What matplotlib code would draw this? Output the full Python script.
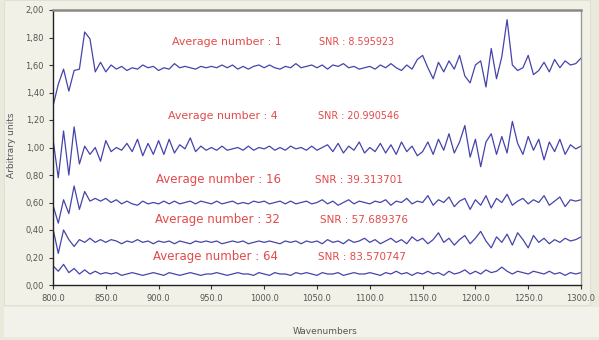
import numpy as np
import matplotlib
matplotlib.use("Agg")
import matplotlib.pyplot as plt
from matplotlib.patches import Rectangle

# wavenumber grid (5 cm-1 steps)
wavenumbers = np.arange(800, 1301, 5)

# spectra, one per averaging number
avg_1 = [
    1.30, 1.46, 1.57, 1.41, 1.56, 1.57, 1.84, 1.79, 1.55, 1.62,
    1.55, 1.60, 1.57, 1.59, 1.56, 1.58, 1.57, 1.60, 1.58, 1.59,
    1.56, 1.58, 1.57, 1.61, 1.58, 1.59, 1.58, 1.57, 1.59, 1.58,
    1.59, 1.58, 1.60, 1.58, 1.60, 1.57, 1.59, 1.57, 1.59, 1.60,
    1.58, 1.60, 1.58, 1.57, 1.59, 1.58, 1.61, 1.58, 1.59, 1.60,
    1.58, 1.60, 1.57, 1.60, 1.59, 1.61, 1.58, 1.59, 1.57, 1.58,
    1.59, 1.57, 1.60, 1.58, 1.61, 1.58, 1.56, 1.60, 1.57, 1.64,
    1.67, 1.58, 1.50, 1.62, 1.55, 1.63, 1.57, 1.67, 1.52, 1.47,
    1.60, 1.63, 1.44, 1.72, 1.50, 1.66, 1.93, 1.60, 1.56, 1.58,
    1.67, 1.53, 1.56, 1.62, 1.55, 1.64, 1.58, 1.63, 1.60, 1.61,
    1.65,
]
avg_4 = [
    1.06, 0.78, 1.12, 0.80, 1.15, 0.88, 1.01, 0.95, 1.00, 0.90,
    1.05, 0.97, 1.00, 0.98, 1.03, 0.97, 1.06, 0.94, 1.03, 0.95,
    1.05, 0.95, 1.06, 0.96, 1.02, 0.99, 1.07, 0.97, 1.01, 0.98,
    1.00, 0.98, 1.01, 0.98, 0.99, 1.00, 0.98, 1.01, 0.98, 1.00,
    0.99, 1.01, 0.98, 1.00, 0.98, 1.01, 0.99, 1.00, 0.98, 1.01,
    0.98, 1.00, 1.02, 0.97, 1.03, 0.96, 1.01, 0.98, 1.04, 0.96,
    1.00, 0.97, 1.03, 0.96, 1.02, 0.95, 1.04, 0.97, 1.01, 0.94,
    0.97, 1.04, 0.95, 1.06, 0.98, 1.10, 0.96, 1.04, 1.16, 0.93,
    1.06, 0.86, 1.04, 1.10, 0.95, 1.08, 0.96, 1.19, 1.03, 0.95,
    1.08, 0.98, 1.06, 0.91, 1.04, 0.97, 1.06, 0.95, 1.02, 0.99,
    1.01,
]
avg_16 = [
    0.58, 0.45, 0.62, 0.52, 0.72, 0.55, 0.68, 0.61, 0.63, 0.61,
    0.63, 0.60, 0.62, 0.59, 0.61, 0.59, 0.58, 0.61, 0.59, 0.60,
    0.59, 0.61, 0.59, 0.61, 0.59, 0.60, 0.61, 0.59, 0.61, 0.60,
    0.59, 0.61, 0.59, 0.60, 0.61, 0.59, 0.60, 0.59, 0.61, 0.60,
    0.61, 0.59, 0.60, 0.61, 0.59, 0.61, 0.59, 0.60, 0.61, 0.59,
    0.60, 0.62, 0.59, 0.61, 0.58, 0.60, 0.62, 0.59, 0.61, 0.60,
    0.59, 0.61, 0.60, 0.62, 0.58, 0.61, 0.60, 0.63, 0.59, 0.61,
    0.60, 0.65, 0.58, 0.62, 0.60, 0.64, 0.57, 0.61, 0.63, 0.55,
    0.62, 0.58, 0.65, 0.56, 0.63, 0.60, 0.66, 0.58, 0.61, 0.63,
    0.59, 0.62, 0.60, 0.65, 0.58, 0.61, 0.64, 0.57, 0.62, 0.61,
    0.62,
]
avg_32 = [
    0.41, 0.23, 0.40, 0.33, 0.28, 0.33, 0.31, 0.34, 0.31, 0.33,
    0.31, 0.33, 0.32, 0.30, 0.32, 0.31, 0.33, 0.31, 0.32, 0.30,
    0.32, 0.31, 0.32, 0.30, 0.32, 0.31, 0.30, 0.32, 0.31, 0.32,
    0.31, 0.32, 0.30, 0.31, 0.32, 0.31, 0.32, 0.30, 0.31, 0.32,
    0.31, 0.32, 0.31, 0.30, 0.32, 0.31, 0.32, 0.30, 0.32, 0.31,
    0.32, 0.30, 0.33, 0.31, 0.32, 0.30, 0.33, 0.31, 0.32, 0.34,
    0.31, 0.33, 0.30, 0.32, 0.34, 0.31, 0.33, 0.30, 0.35, 0.32,
    0.34, 0.30, 0.33, 0.38, 0.31, 0.34, 0.29, 0.33, 0.36, 0.30,
    0.34, 0.39, 0.32, 0.27, 0.35, 0.31, 0.37, 0.29, 0.38, 0.33,
    0.27, 0.36, 0.31, 0.34, 0.30, 0.33, 0.31, 0.34, 0.32, 0.33,
    0.35,
]
avg_64 = [
    0.14, 0.10, 0.15, 0.09, 0.12, 0.08, 0.11, 0.08, 0.10, 0.08,
    0.09, 0.08, 0.09, 0.07, 0.08, 0.09, 0.08, 0.07, 0.08, 0.09,
    0.08, 0.07, 0.09, 0.08, 0.07, 0.08, 0.09, 0.08, 0.07, 0.08,
    0.08, 0.09, 0.08, 0.07, 0.08, 0.09, 0.08, 0.08, 0.07, 0.09,
    0.08, 0.07, 0.09, 0.08, 0.08, 0.07, 0.09, 0.08, 0.09, 0.08,
    0.07, 0.09, 0.08, 0.08, 0.09, 0.07, 0.08, 0.09, 0.08, 0.08,
    0.09, 0.08, 0.07, 0.09, 0.08, 0.10, 0.08, 0.09, 0.07, 0.09,
    0.08, 0.10, 0.08, 0.09, 0.07, 0.10, 0.08, 0.09, 0.11, 0.08,
    0.10, 0.08, 0.11, 0.09, 0.10, 0.13, 0.10, 0.08, 0.10, 0.09,
    0.08, 0.10, 0.09, 0.08, 0.10, 0.08, 0.09, 0.07, 0.09, 0.08,
    0.09,
]
spectra = [avg_1, avg_4, avg_16, avg_32, avg_64]

avg_labels = ["Average number : 1", "Average number : 4", "Average number : 16",
              "Average number : 32", "Average number : 64"]
snr_labels = ["SNR : 8.595923", "SNR : 20.990546", "SNR : 39.313701",
              "SNR : 57.689376", "SNR : 83.570747"]

x_ticks = [800, 850, 900, 950, 1000, 1050, 1100, 1150, 1200, 1250, 1300]
x_tick_labels = ["800.0", "850.0", "900.0", "950.0", "1000.0", "1050.0",
                 "1100.0", "1150.0", "1200.0", "1250.0", "1300.0"]
y_ticks = [0.0, 0.2, 0.4, 0.6, 0.8, 1.0, 1.2, 1.4, 1.6, 1.8, 2.0]
y_tick_labels = ["0,00", "0,20", "0,40", "0,60", "0,80", "1,00",
                 "1,20", "1,40", "1,60", "1,80", "2,00"]

# text placement (data coords) and size for each annotation row
label_pos = [(913, 1.77, 1052), (909, 1.23, 1051), (898, 0.765, 1048),
             (897, 0.475, 1053), (895, 0.205, 1051)]
label_size = [7.9, 7.9, 8.5, 8.5, 8.5]

W, H = 599, 340
fig = plt.figure(figsize=(W / 100, H / 100), dpi=100, facecolor="#ebe9dc")

# light panels behind the chart (windows style frame)
fig.patches.append(Rectangle((4 / W, 1 - 305 / H), 586 / W, 305 / H, transform=fig.transFigure,
                             facecolor="#f2f1e8", edgecolor="#e2e0d2", lw=0.8, zorder=-10))
fig.patches.append(Rectangle((4 / W, 1 - 337 / H), 595 / W, 30 / H, transform=fig.transFigure,
                             facecolor="#f3f2ea", edgecolor="none", zorder=-10))

ax = fig.add_axes([53 / W, 1 - 285 / H, 528 / W, 275 / H])
ax.set_zorder(2)
ax.set_facecolor("white")

for y in spectra:
    ax.plot(wavenumbers, y, color="#4444ac", lw=0.9)

red = "#e34a4a"
for i in range(len(spectra)):
    xa, ya, xs = label_pos[i]
    ax.text(xa, ya, avg_labels[i], color=red, fontsize=label_size[i], va="center", ha="left")
    ax.text(xs, ya, snr_labels[i], color=red, fontsize=label_size[i] - 1.0, va="center", ha="left")

ax.set_xlim(800, 1300)
ax.set_ylim(0, 2.0)
ax.set_xticks(x_ticks)
ax.set_xticklabels(x_tick_labels)
ax.set_yticks(y_ticks)
ax.set_yticklabels(y_tick_labels)
ax.tick_params(axis="both", labelsize=6, colors="#333333", labelcolor="#555555",
               length=3, width=0.8, direction="out")

ax.spines["left"].set_color("#222222")
ax.spines["bottom"].set_color("#222222")
ax.spines["top"].set_color("#8a8a80")
ax.spines["right"].set_color("#9a9a90")
for s in ax.spines.values():
    s.set_linewidth(1.0)
ax.spines["top"].set_linewidth(1.8)

fig.text(12 / W, 1 - 145 / H, "Arbitrary units", rotation=90, fontsize=6.5,
         color="#555555", ha="center", va="center")
fig.text(325 / W, 1 - 331 / H, "Wavenumbers", fontsize=6.5, color="#555555",
         ha="center", va="center")

fig.savefig("out.png", dpi=100, facecolor=fig.get_facecolor())
